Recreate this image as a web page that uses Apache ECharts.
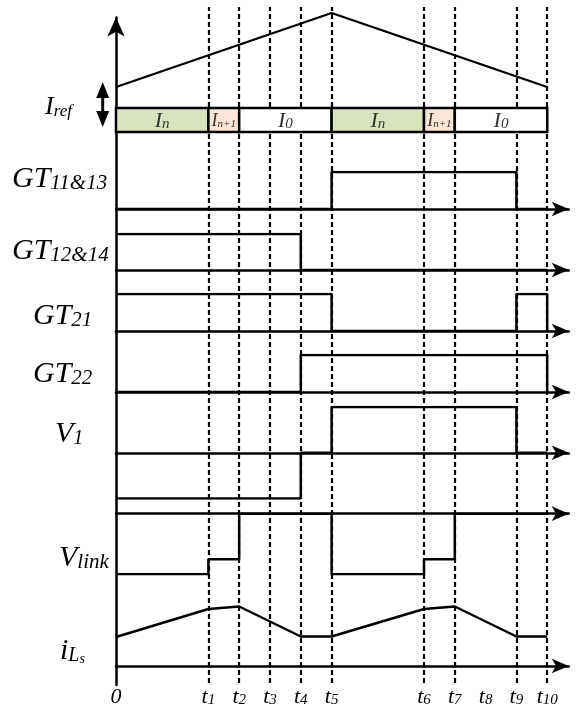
<!DOCTYPE html>
<html>
<head>
<meta charset="utf-8">
<script src="https://cdn.jsdelivr.net/npm/echarts@6/dist/echarts.min.js"></script>
<style>
html, body { margin: 0; padding: 0; background: #fff; }
#main { width: 586px; height: 711px; }
</style>
</head>
<body>
<div id="main"></div>
<script>
// time instants, in units of one sub-interval
var tickTimes = [0, 3, 4, 5, 6, 7, 10, 11, 12, 13, 14];
var tickNames = ['0', '1', '2', '3', '4', '5', '6', '7', '8', '9', '10'];
var dashTimes = [3, 4, 5, 6, 7, 10, 11, 13, 14];

// reference current ramp
var irefTimes = [0, 7, 14];
var irefVals = [0, 1, 0];

// reference level segments
var segStart = [0, 3, 4, 7, 10, 11];
var segEnd = [3, 4, 7, 10, 11, 14];
var segName = ['n', 'n+1', '0', 'n', 'n+1', '0'];

// gate signals (level holds from each time to the next)
var gt1113T = [0, 7, 13, 14], gt1113V = [0, 1, 0, 0];
var gt1214T = [0, 6, 14], gt1214V = [1, 0, 0];
var gt21T = [0, 7, 13, 14], gt21V = [1, 0, 1, 0];
var gt22T = [0, 6, 14], gt22V = [0, 1, 0];
var v1T = [0, 6, 7, 13, 14], v1V = [-1, 0, 1, 0, 0];
var vlinkT = [0, 3, 4, 7, 10, 11, 14], vlinkV = [-1, -0.75, 0, -1, -0.75, 0, 0];

// inductor current
var ilsTimes = [0, 3, 4, 6, 7, 10, 11, 13, 14];
var ilsVals = [29, 57, 59.5, 29.5, 29.5, 57, 59.5, 29.5, 29.5];

var X0 = 116, UNIT = 30.8, XMAX = 14.7;
var BLACK = '#000';
var GREEN = '#d7e4bd', PINK = '#fce4d6';
var SERIF = 'Liberation Serif';

var grids = [], xAxes = [], yAxes = [], series = [];

function panel(top, height, ymin, ymax, arrow) {
    var i = grids.length;
    grids.push({left: X0, top: top, width: XMAX * UNIT, height: height});
    xAxes.push({
        type: 'value', gridIndex: i, min: 0, max: XMAX, show: arrow,
        axisLine: {show: true, onZero: true, symbol: ['none', 'arrow'], symbolSize: [11, 17],
            lineStyle: {color: BLACK, width: 2.5}},
        axisTick: {show: false}, axisLabel: {show: false}, splitLine: {show: false}
    });
    yAxes.push({type: 'value', gridIndex: i, min: ymin, max: ymax, show: false, splitLine: {show: false}});
    return i;
}

function pairs(T, V) {
    return T.map(function (t, k) { return [t, V[k]]; });
}

function lineSeries(i, data, step, width) {
    series.push({
        type: 'line', xAxisIndex: i, yAxisIndex: i, step: step, symbol: 'none',
        data: data, lineStyle: {color: BLACK, width: width}, silent: true, z: 3
    });
}

// rich text token, dropped `drop` px below the main baseline
function tok(size, mainSize, mainH, drop) {
    return {
        fontFamily: SERIF, fontStyle: 'italic', fontSize: size, color: BLACK, verticalAlign: 'bottom',
        lineHeight: mainH - 0.675 * (mainSize - size) - 2 * drop
    };
}
function mainTok(size, h) {
    return {fontFamily: SERIF, fontStyle: 'italic', fontSize: size, color: BLACK, verticalAlign: 'bottom', lineHeight: h};
}

// dashed time markers
var gDash = panel(7, 676, 0, 1, false);
series.push({
    type: 'line', xAxisIndex: gDash, yAxisIndex: gDash, data: [[0, 0]], symbol: 'none', silent: true,
    lineStyle: {width: 0},
    markLine: {
        symbol: ['none', 'none'], silent: true, label: {show: false},
        lineStyle: {color: BLACK, type: [5, 3], width: 2.2},
        emphasis: {disabled: true},
        data: dashTimes.map(function (t) { return {xAxis: t}; })
    }
});

// main vertical axis and time labels
var gAxis = panel(17.5, 667.5, 0, 1, false);
xAxes[gAxis].show = true;
xAxes[gAxis].axisLine = {show: false};
xAxes[gAxis].interval = 1;
xAxes[gAxis].axisLabel = {
    show: true, margin: 1,
    formatter: function (v) {
        var k = tickTimes.indexOf(v);
        if (k < 0) return '';
        return k === 0 ? '{t|0}' : '{t|t}{s|' + tickNames[k] + '}';
    },
    rich: {t: mainTok(22, 22), s: tok(15, 22, 22, 5.5)}
};
yAxes[gAxis].show = true;
yAxes[gAxis].axisLine = {show: true, onZero: false, symbol: ['none', 'arrow'], symbolSize: [13, 19],
    lineStyle: {color: BLACK, width: 2.5}};
yAxes[gAxis].axisTick = {show: false};
yAxes[gAxis].axisLabel = {show: false};

// Iref ramp
var gIref = panel(13, 74, 0, 1, false);
lineSeries(gIref, pairs(irefTimes, irefVals), false, 2.2);

// reference level bar
var gBar = panel(108, 24, 0, 1, false);
series.push({
    type: 'custom', xAxisIndex: gBar, yAxisIndex: gBar, z: 5, silent: true,
    data: segStart.map(function (s, k) { return [s, segEnd[k], k]; }),
    renderItem: function (params, api) {
        var p0 = api.coord([api.value(0), 1]);
        var p1 = api.coord([api.value(1), 0]);
        var name = segName[api.value(2)];
        var small = name === 'n+1';
        var fill = name === 'n' ? GREEN : (small ? PINK : '#fff');
        var M = small ? 18 : 22;
        return {
            type: 'rect',
            shape: {x: p0[0], y: p0[1], width: p1[0] - p0[0], height: p1[1] - p0[1]},
            style: {fill: fill, stroke: BLACK, lineWidth: 2.5},
            textContent: {
                style: {
                    text: '{m|I}{s|' + name + '}',
                    rich: {m: mainTok(M, M), s: tok(small ? 11 : 15, M, M, 2.5)}
                }
            },
            textConfig: {position: 'inside', offset: [0, 1]}
        };
    }
});

// gate and voltage rows
var g1 = panel(172, 37, 0, 1, true);
lineSeries(g1, pairs(gt1113T, gt1113V), 'end', 2.5);
var g2 = panel(234, 36, 0, 1, true);
lineSeries(g2, pairs(gt1214T, gt1214V), 'end', 2.5);
var g3 = panel(294, 37, 0, 1, true);
lineSeries(g3, pairs(gt21T, gt21V), 'end', 2.5);
var g4 = panel(355, 37, 0, 1, true);
lineSeries(g4, pairs(gt22T, gt22V), 'end', 2.5);
var g5 = panel(407, 91.5, -1, 1, true);
lineSeries(g5, pairs(v1T, v1V), 'end', 2.5);
var g6 = panel(513.7, 60.6, -1, 0, true);
lineSeries(g6, pairs(vlinkT, vlinkV), 'end', 2.5);
var g7 = panel(606, 60, 0, 60, true);
lineSeries(g7, pairs(ilsTimes, ilsVals), false, 2.5);

// left-hand signal names
var labelDefs = [
    {parts: ['I', 'ref'], x: 45, base: 110, F: 26, f: [17], d: [4]},
    {parts: ['GT', '11&13'], x: 12, base: 183, F: 30, f: [21], d: [3.5]},
    {parts: ['GT', '12&14'], x: 12, base: 255, F: 30, f: [21], d: [3.5]},
    {parts: ['GT', '21'], x: 33, base: 320, F: 30, f: [21], d: [3.5]},
    {parts: ['GT', '22'], x: 33, base: 378, F: 30, f: [21], d: [3.5]},
    {parts: ['V', '1'], x: 55, base: 438, F: 30, f: [20], d: [3.5]},
    {parts: ['V', 'link'], x: 59, base: 562, F: 30, f: [21], d: [3.5]},
    {parts: ['i', 'L', 's'], x: 60, base: 655, F: 30, f: [20, 14], d: [7, 13]}
];

var graphics = labelDefs.map(function (d) {
    var H = d.F + 12;
    var rich = {m: mainTok(d.F, H)};
    var text = '{m|' + d.parts[0] + '}';
    for (var k = 1; k < d.parts.length; k++) {
        rich['s' + k] = tok(d.f[k - 1], d.F, H, d.d[k - 1]);
        text += '{s' + k + '|' + d.parts[k] + '}';
    }
    return {
        type: 'text', x: d.x, y: d.base + H / 2 - 0.3375 * d.F, silent: true,
        style: {text: text, rich: rich, align: 'left', verticalAlign: 'bottom',
            textAlign: 'left', textVerticalAlign: 'bottom'}
    };
});

// double arrow beside Iref
graphics.push({
    type: 'group', silent: true,
    children: [
        {type: 'line', shape: {x1: 102.7, y1: 95, x2: 102.7, y2: 114}, style: {stroke: BLACK, lineWidth: 3}},
        {type: 'polygon', shape: {points: [[102.7, 82], [96.2, 98], [109.2, 98]]}, style: {fill: BLACK}},
        {type: 'polygon', shape: {points: [[102.7, 127], [96.2, 111], [109.2, 111]]}, style: {fill: BLACK}}
    ]
});

var char = echarts.init(document.getElementById('main'));
char.setOption({
    animation: false,
    backgroundColor: '#fff',
    grid: grids,
    xAxis: xAxes,
    yAxis: yAxes,
    series: series,
    graphic: graphics
});
</script>
</body>
</html>
